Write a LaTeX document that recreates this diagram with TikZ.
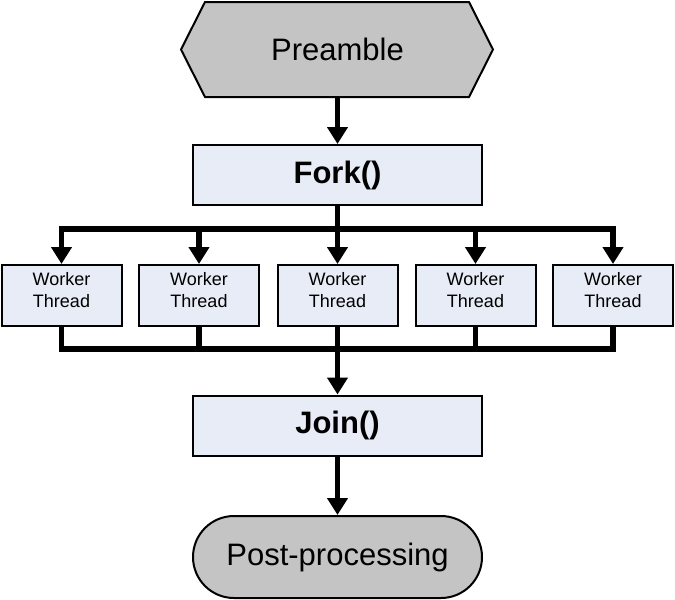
\documentclass[tikz,border=0pt]{standalone}
\usepackage{fontspec}
\setmainfont{Liberation Sans}
\usetikzlibrary{arrows.meta}
\definecolor{hexgray}{RGB}{196,196,196}
\definecolor{boxblue}{RGB}{231,236,246}
\begin{document}
\begin{tikzpicture}[x=1pt,y=-1pt,
  bigbox/.style={draw=black,line width=2pt,fill=boxblue,minimum width=289pt,minimum height=60pt,inner sep=0pt,font=\fontsize{31}{37}\selectfont\bfseries},
  worker/.style={draw=black,line width=2pt,fill=boxblue,minimum width=120pt,minimum height=61pt,inner sep=0pt,align=center,font=\fontsize{18}{22}\selectfont,text depth=12pt},
  conn/.style={line width=5.5pt},
  arr/.style={line width=5.5pt,-{Triangle[width=20pt,length=17pt]}},
  arr2/.style={line width=5.5pt,{Triangle[width=20pt,length=17pt]}-{Triangle[width=20pt,length=17pt]}}
]
\useasboundingbox (0,0) rectangle (675,600);
% Preamble hexagon
\fill[hexgray,draw=black,line width=2pt] (205,2) -- (469,2) -- (493,49.5) -- (469,97) -- (205,97) -- (181,49.5) -- cycle;
\node[minimum width=312pt,minimum height=95pt,inner sep=0pt,font=\fontsize{31}{37}\selectfont] (pre) at (337.5,49.5) {Preamble};
\node[bigbox] (fork) at (337.5,175) {Fork()};
\node[worker] (w1) at (61.5,295.5) {Worker\\Thread};
\node[worker] (w2) at (199,295.5) {Worker\\Thread};
\node[worker] (w3) at (337.5,295.5) {Worker\\Thread};
\node[worker] (w4) at (475.5,295.5) {Worker\\Thread};
\node[worker] (w5) at (613,295.5) {Worker\\Thread};
\node[bigbox] (join) at (337.5,425.5) {Join()};
\node[draw=black,line width=2pt,fill=hexgray,rounded corners=41pt,minimum width=289pt,minimum height=82pt,inner sep=0pt,font=\fontsize{31}{37}\selectfont] (post) at (337.5,557) {Post-processing};
\coordinate (b1) at (337.5,229);
\coordinate (b2) at (337.5,349);
% connectors
\draw[arr] (pre.south) -- (fork.north);
\draw[arr2] (w1.north) |- (b1) -| (w5.north);
\draw[arr] (fork.south) -- (w3.north);
\draw[arr] (w2.north |- b1) -- (w2.north);
\draw[arr] (w4.north |- b1) -- (w4.north);
\draw[conn] (w1.south) |- (b2) -| (w5.south);
\draw[conn] (w2.south) -- (w2.south |- b2);
\draw[conn] (w4.south) -- (w4.south |- b2);
\draw[arr] (w3.south) -- (join.north);
\draw[arr] (join.south) -- (post.north);
\end{tikzpicture}
\end{document}
